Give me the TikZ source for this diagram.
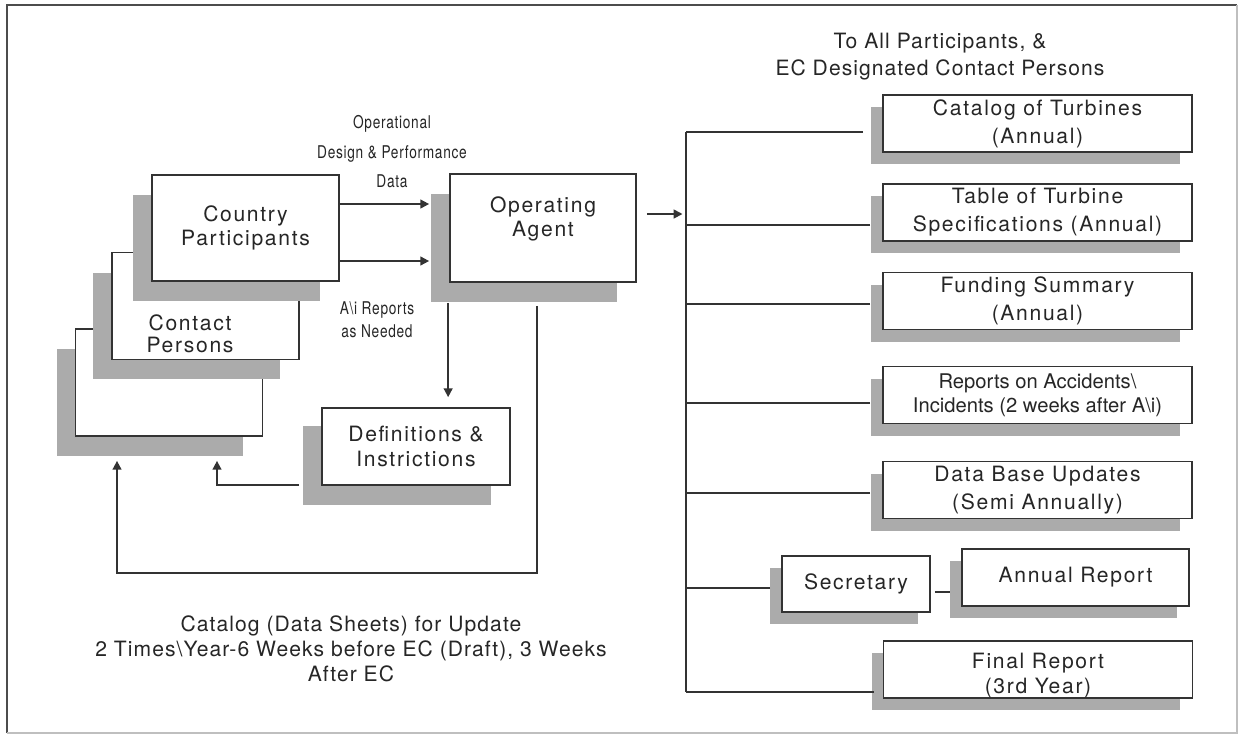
\documentclass[tikz,border=0pt]{standalone}
\usepackage{fontspec}
\setmainfont{TeX Gyre Heros}
\newfontfamily\boxfont[LetterSpace=8]{TeX Gyre Heros}
\newfontfamily\narrowfont[FakeStretch=0.78,LetterSpace=4]{TeX Gyre Heros}
\newfontfamily\notefont[LetterSpace=5]{TeX Gyre Heros}
\usetikzlibrary{arrows.meta,shadows,positioning,calc}
\tikzset{
  stackbox/.style={draw=black!80, fill=white, line width=1pt, inner sep=0pt, align=center, text=black!85,
    minimum width=3.74cm, minimum height=2.14cm,
    general shadow={fill=black!33, shadow xshift=-0.38cm, shadow yshift=-0.4cm},
    font=\boxfont\fontsize{12}{14}\selectfont},
  outbox/.style={draw=black!80, fill=white, line width=1pt, inner sep=0pt, align=center, text=black!85,
    minimum width=6.18cm, minimum height=1.14cm,
    general shadow={fill=black!33, shadow xshift=-0.24cm, shadow yshift=-0.24cm},
    font=\boxfont\fontsize{12}{16}\selectfont},
  wire/.style={draw=black!80, line width=1pt},
  arr/.style={wire, -{Triangle[length=5pt,width=5pt]}},
  narrowlabel/.style={text=black!85, align=center, inner sep=0pt, font=\narrowfont\fontsize{10}{16.8}\selectfont},
  notelabel/.style={text=black!85, align=center, inner sep=0pt, font=\notefont\fontsize{12}{14.2}\selectfont},
}

\begin{document}
\begin{tikzpicture}[x=0.02cm, y=-0.02cm]

\useasboundingbox (0,0) rectangle (1240,735);
\draw[black!70, line width=0.8pt] (7,733) -- (7,5) -- (1237,5);
\draw[black!25, line width=0.6pt] (1237,5) -- (1237,733) -- (7,733);

% participants stack
\node[stackbox] (back) at (169,382.5) {};
\node[stackbox] (contact) at (205.5,306) {};
\node[text=black!85, align=center, inner sep=0pt, font=\boxfont\fontsize{12}{12.5}\selectfont] (contacttxt) at (190,334) {Contact\\Persons};
\node[stackbox, minimum height=2.12cm] (cp) at (245.5,228) {Country\\Participants};

% operating agent
\node[stackbox, minimum width=3.72cm, minimum height=2.16cm, text depth=0.45cm] (oa) at (543,228) {Operating\\Agent};
\node[stackbox, minimum width=3.76cm, minimum height=1.54cm,
  general shadow={fill=black!33, shadow xshift=-0.38cm, shadow yshift=-0.36cm}] (defs) at (416,446.5) {Definitions \&\\Instrictions};

\draw[arr] ([yshift=0.48cm]cp.east) -- ([xshift=-0.4cm,yshift=0.48cm]oa.west);
\draw[arr] ([yshift=-0.66cm]cp.east) -- ([xshift=-0.4cm,yshift=-0.66cm]oa.west);
\node[narrowlabel] (datalbl) at (392,152) {Operational\\Design \& Performance\\Data};
\node[narrowlabel, font=\narrowfont\fontsize{10}{13}\selectfont] (ailbl) at (377,320) {A\textbackslash i Reports\\as Needed};

\draw[arr] ([xshift=-0.02cm,yshift=-0.4cm]oa.south west) -- ([xshift=-0.02cm,yshift=0.2cm]oa.south west |- defs.north);
\draw[arr] ([xshift=-0.44cm,yshift=0.02cm]defs.south west) -| ([xshift=0.96cm,yshift=-0.48cm]back.south);
\draw[arr] ([xshift=-0.12cm,yshift=-0.46cm]oa.south) -- ++(0,267) -| ([xshift=-1.04cm,yshift=-0.48cm]back.south);

\node[notelabel] (catnote) at (351,649) {Catalog (Data Sheets) for Update\\2 Times\textbackslash Year-6 Weeks before EC (Draft), 3 Weeks\\After EC};

% outputs
\node[notelabel, font=\notefont\fontsize{12}{15.4}\selectfont] (tolbl) at (940,57) {To All Participants, \&\\EC Designated Contact Persons};

\node[outbox] (cat) at (1037.5,123.5) {Catalog of Turbines\\(Annual)};
\node[outbox] (tab) at (1037.5,212.5) {Table of Turbine\\Specifications (Annual)};
\node[outbox] (fund) at (1037.5,301) {Funding Summary\\(Annual)};
\node[outbox, font=\fontsize{11.5}{13.6}\selectfont] (rep) at (1037.5,395) {Reports on Accidents\textbackslash\\Incidents (2 weeks after A\textbackslash i)};
\node[outbox] (dbu) at (1037.5,490) {Data Base Updates\\(Semi Annually)};
\node[outbox, minimum width=2.96cm, minimum height=1.12cm] (sec) at (856,584) {Secretary};
\node[outbox, minimum width=4.54cm] (ann) at (1075.5,577.5) {Annual Report};
\node[outbox, font=\boxfont\fontsize{12}{14}\selectfont, text height=29pt, text depth=2pt] (fin) at (1038,669.5) {Final Report\\(3rd Year)};

\coordinate (bus) at (686,400);
\foreach \n/\dx/\dy in {cat/-0.38/-0.17, tab/-0.24/-0.25, fund/-0.24/-0.06, rep/-0.24/-0.16,
                       dbu/-0.24/-0.06, sec/-0.22/-0.08, fin/-0.18/-0.45}
{
  \path ([xshift=\dx cm,yshift=\dy cm]\n.west) coordinate (\n-tip);
  \draw[wire] (\n-tip) -- (bus |- \n-tip);
}
\draw[wire] (bus |- cat-tip) -- (bus |- fin-tip);

\path ([xshift=0.2cm,yshift=0.28cm]oa.east) coordinate (oaout);
\draw[arr, shorten >=2pt] (oaout) -- (bus |- oaout);

\path ([xshift=0.08cm,yshift=-0.16cm]sec.east) coordinate (secout);
\draw[wire, shorten >=0.22cm] (secout) -- (secout -| ann.west);

\end{tikzpicture}
\end{document}
